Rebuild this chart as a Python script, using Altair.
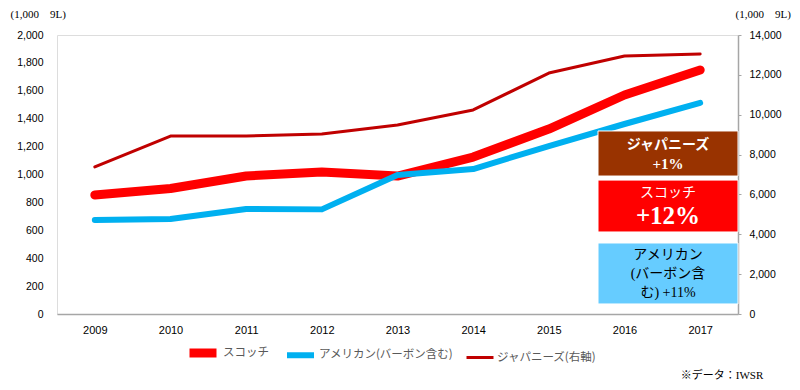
import altair as alt
import pandas as pd

years = ["2009", "2010", "2011", "2012", "2013", "2014", "2015", "2016", "2017"]
scotch = [853, 900, 989, 1018, 989, 1125, 1326, 1570, 1749]
american = [674, 681, 753, 750, 996, 1039, 1204, 1362, 1513]
japanese = [7380, 8930, 8930, 9030, 9480, 10240, 12090, 12950, 13050]

series_names = ["スコッチ", "アメリカン(バーボン含む)", "ジャパニーズ(右軸)"]
series_colors = ["#FF0000", "#00B0F0", "#C00000"]
series_widths = [9, 3, 3]

left_ticks = list(range(0, 2001, 200))
right_ticks = list(range(0, 14001, 2000))
unit_label = "(1,000　9L)"

# annotation boxes (in left-axis units)
box_top = [1312, 960, 509]
box_bottom = [989, 588, 72]
box_fill = ["#993300", "#FF0000", "#66CCFF"]

# annotation texts
ann_text = ["ジャパニーズ", "+1%", "スコッチ", "+12%", "アメリカン", "(バーボン含", "む) +11%"]
ann_value = [1211, 1075, 867, 703, 423, 287, 151]
ann_color = ["#FFFFFF", "#FFFFFF", "#FFFFFF", "#FFFFFF", "#000000", "#000000", "#000000"]
ann_size = [14, 15, 14, 25, 14, 14, 14]
ann_weight = ["bold", "bold", "normal", "bold", "normal", "normal", "normal"]

note = "※データ：IWSR"

SERIF = "'Liberation Serif', 'Noto Sans CJK JP'"
SANS = "'Liberation Sans', 'Noto Sans CJK JP'"

left_df = pd.DataFrame({
    "year": years * 2,
    "series": [series_names[0]] * len(years) + [series_names[1]] * len(years),
    "value": scotch + american,
})
right_df = pd.DataFrame({"year": years, "series": [series_names[2]] * len(years), "value": japanese})
box_df = pd.DataFrame({"value": box_top, "value2": box_bottom, "fill": box_fill})
ann_df = pd.DataFrame({"text": ann_text, "value": ann_value})

x_enc = alt.X("year:N", sort=years, title=None,
              axis=alt.Axis(labelAngle=0, ticks=False, domainColor="#A6A6A6", domainWidth=1.5,
                            labelPadding=10, labelFont=SANS, labelFontSize=11, labelColor="#000000"))

left_axis = alt.Axis(values=left_ticks, format=",.0f", grid=False, domain=False, ticks=False,
                     labelPadding=14, labelFont=SANS, labelFontSize=10.5, labelColor="#000000",
                     title=unit_label, titleAngle=0, titleAlign="left", titleBaseline="middle",
                     titleX=-47, titleY=-21, titleFont=SERIF, titleFontSize=11,
                     titleFontWeight="normal", titleColor="#000000")
left_scale = alt.Scale(domain=[0, 2000])

legend_def = alt.Legend(title=None, orient="none", direction="horizontal",
                        legendX=128, legendY=300, symbolType="stroke",
                        symbolSize=729, labelFont="Noto Sans CJK JP",
                        labelFontSize=11.5, labelColor="#595959",
                        columnPadding=6, labelOffset=2, padding=0)
color_enc = alt.Color("series:N", scale=alt.Scale(domain=series_names, range=series_colors),
                      legend=legend_def)
sw_enc = alt.StrokeWidth("series:N", scale=alt.Scale(domain=series_names, range=series_widths),
                         legend=legend_def)

lines_left = alt.Chart(left_df).mark_line(strokeCap="round", strokeJoin="round").encode(
    x=x_enc,
    y=alt.Y("value:Q", scale=left_scale, axis=left_axis),
    color=color_enc,
    strokeWidth=sw_enc,
)

boxes = alt.Chart(box_df).mark_rect(stroke="#FFFFFF", strokeWidth=1).encode(
    x=alt.value(541), x2=alt.value(681),
    y=alt.Y("value:Q", scale=left_scale, axis=left_axis),
    y2="value2:Q",
    fill=alt.Fill("fill:N", scale=None),
)

ann_layers = []
for i in range(len(ann_text)):
    ann_layers.append(
        alt.Chart(ann_df.iloc[[i]]).mark_text(
            font=SERIF, fontSize=ann_size[i], fontWeight=ann_weight[i], color=ann_color[i],
            align="center", baseline="middle"
        ).encode(
            x=alt.value(611),
            y=alt.Y("value:Q", scale=left_scale, axis=left_axis),
            text="text:N",
        )
    )

note_layer = alt.Chart(pd.DataFrame({"text": [note]})).mark_text(
    font=SERIF, fontSize=11, color="#000000", align="center", baseline="middle"
).encode(x=alt.value(665), y=alt.value(341), text="text:N")

left = alt.layer(lines_left, boxes, *ann_layers, note_layer)

right = alt.Chart(right_df).mark_line(strokeCap="round", strokeJoin="round").encode(
    x=x_enc,
    y=alt.Y("value:Q", scale=alt.Scale(domain=[0, 14000]),
            axis=alt.Axis(orient="right", values=right_ticks, format=",.0f", grid=False,
                          domain=True, domainColor="#A6A6A6", domainWidth=1.5,
                          ticks=True, tickColor="#A6A6A6", tickSize=3,
                          labelPadding=8, labelFont=SANS, labelFontSize=10.5, labelColor="#000000",
                          title=unit_label, titleAngle=0, titleAlign="left", titleBaseline="middle",
                          titleX=-3, titleY=-21, titleFont=SERIF, titleFontSize=11,
                          titleFontWeight="normal", titleColor="#000000")),
    color=color_enc,
    strokeWidth=sw_enc,
)

chart = alt.layer(left, right).resolve_scale(y="independent").properties(
    width=681, height=279,
    autosize=alt.AutoSizeParams(type="none"),
    padding={"left": 49, "top": 27, "right": 54, "bottom": 68},
).configure_view(stroke=None).configure(background="#FFFFFF")

chart.save("out.html", embed_options={"renderer": "svg", "actions": False})
